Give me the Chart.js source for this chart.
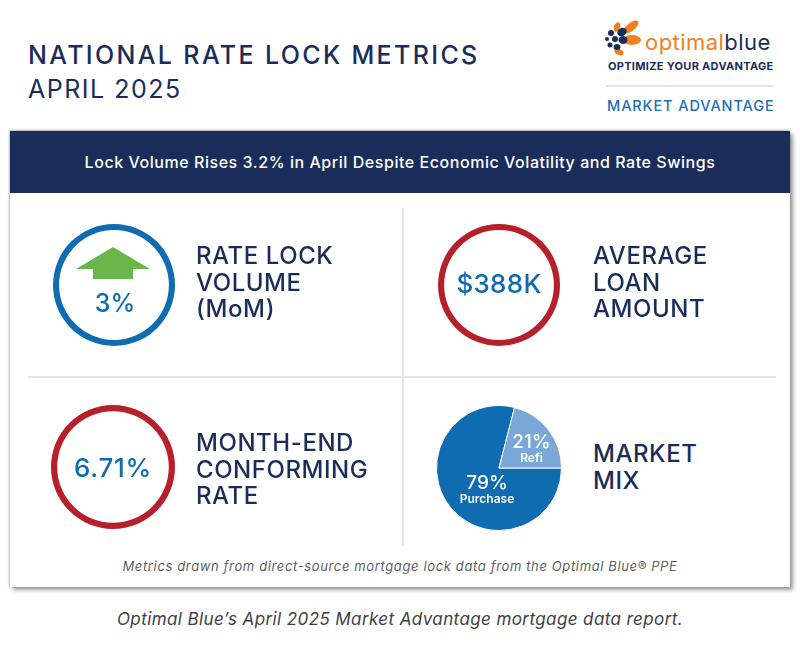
<!DOCTYPE html>
<html>
<head>
<meta charset="utf-8">
<script src="https://cdn.jsdelivr.net/npm/chart.js@4/dist/chart.umd.min.js"></script>
<style>
html, body { margin: 0; padding: 0; background: #fff; }
body { width: 800px; height: 650px; position: relative; overflow: hidden; font-family: Inter, "Open Sans", sans-serif; color: #1a2d5a; }
.t { position: absolute; white-space: nowrap; line-height: 1; }
.lbl { position: absolute; font-size: 24px; line-height: 26.5px; font-weight: 500; letter-spacing: .55px; color: #1a2d5a; }
.val { position: absolute; color: #0f6cb0; font-weight: 500; text-align: center; line-height: 1; }
canvas { position: absolute; }
#panel { position: absolute; left: 10px; top: 131px; width: 780px; height: 456px; background: #fff; box-shadow: 3px 3px 4px rgba(60,60,60,.5), -1px 0 2px rgba(60,60,60,.25), 0 -1px 2px rgba(60,60,60,.3); }
#band { position: absolute; left: 10px; top: 131px; width: 780px; height: 62px; background: #1a2d5a; color: #fff; font-size: 16px; font-weight: 500; letter-spacing: .55px; text-align: center; line-height: 62px; }
.rule { position: absolute; background: #e4e5e6; }
</style>
</head>
<body>
<div class="t" style="left:28px;top:43px;font-size:25px;font-weight:500;letter-spacing:2.35px">NATIONAL RATE LOCK METRICS</div>
<div class="t" style="left:28px;top:77px;font-size:25px;font-weight:400;letter-spacing:1.5px">APRIL 2025</div>

<svg style="position:absolute;left:600px;top:18px" width="50" height="42">
  <g fill="#f08122">
    <ellipse cx="31" cy="9" rx="9" ry="4" transform="rotate(-38 31 9)"/>
    <ellipse cx="32" cy="22" rx="9" ry="5"/>
    <ellipse cx="19" cy="34" rx="5" ry="3" transform="rotate(25 19 34)"/>
    <ellipse cx="17" cy="9" rx="3" ry="5" transform="rotate(20 17 9)"/>
  </g>
  <g fill="#1a2d5a">
    <ellipse cx="22" cy="14" rx="5" ry="4" transform="rotate(-35 22 14)"/>
    <ellipse cx="23" cy="22" rx="4.5" ry="4"/>
    <ellipse cx="17" cy="29" rx="3.5" ry="3"/>
    <circle cx="11" cy="15" r="3"/>
    <circle cx="15" cy="21" r="3"/>
    <circle cx="10" cy="27" r="2.5"/>
    <circle cx="7" cy="21" r="2"/>
  </g>
</svg>
<div class="t" style="left:645px;top:31px;font-size:22px;font-weight:400;letter-spacing:.45px"><span style="color:#f08122">optimal</span><span style="color:#1a2d5a">blue</span></div>
<div class="t" style="left:608px;top:61px;font-size:11px;font-weight:700;letter-spacing:.3px">OPTIMIZE YOUR ADVANTAGE</div>
<div class="rule" style="left:606px;top:85px;width:168px;height:2px"></div>
<div class="t" style="left:607px;top:99px;font-size:14.5px;font-weight:500;letter-spacing:.9px;color:#1f6fb2">MARKET ADVANTAGE</div>

<div id="panel"></div>
<div id="band">Lock Volume Rises 3.2% in April Despite Economic Volatility and Rate Swings</div>
<div class="rule" style="left:402px;top:208px;width:1.5px;height:337px"></div>
<div class="rule" style="left:28px;top:376px;width:748px;height:1.5px"></div>

<canvas id="ringVolume" style="left:53px;top:224px"></canvas>
<canvas id="ringLoan" style="left:438px;top:224px"></canvas>
<canvas id="ringRate" style="left:51px;top:405px"></canvas>
<canvas id="pieMix" style="left:436px;top:405px"></canvas>

<svg style="position:absolute;left:76px;top:247px" width="76" height="33">
  <polygon points="37,0 74,22 57,22 57,32 17,32 17,22 0,22" fill="#6bb64a"/>
</svg>
<div class="val" id="valVolume" style="left:55px;top:291px;width:120px;font-size:25px"></div>
<div class="val" id="valLoan" style="left:439px;top:271px;width:120px;font-size:26px;letter-spacing:.3px"></div>
<div class="val" id="valRate" style="left:53px;top:455px;width:120px;font-size:26px;letter-spacing:.7px"></div>

<div class="lbl" style="left:196px;top:243px">RATE LOCK<br>VOLUME<br>(MoM)</div>
<div class="lbl" style="left:593px;top:243px">AVERAGE<br>LOAN<br>AMOUNT</div>
<div class="lbl" style="left:196px;top:430px">MONTH-END<br>CONFORMING<br>RATE</div>
<div class="lbl" style="left:593px;top:441px">MARKET<br>MIX</div>

<div class="t" style="left:10px;width:780px;top:560px;text-align:center;font-size:13px;font-style:italic;color:#5c6165;letter-spacing:.63px">Metrics drawn from direct-source mortgage lock data from the Optimal Blue® PPE</div>
<div class="t" style="left:0;width:800px;top:611px;text-align:center;font-size:17px;font-style:italic;color:#3d4044;letter-spacing:.4px">Optimal Blue’s April 2025 Market Advantage mortgage data report.</div>

<script>
// printed on the card
const volumeChange = "3%";
const avgLoan = "$388K";
const conformingRate = "6.71%";
const mixLabels = ["Purchase", "Refi"];
const mixValues = [79, 21];
const mixColors = ["#0f6cb0", "#79a7d8"];
const ringColorUp = "#0f6cb0";
const ringColorFlat = "#b5202b";

Chart.defaults.animation = false;
Chart.defaults.responsive = false;

document.getElementById("valVolume").textContent = volumeChange;
document.getElementById("valLoan").textContent = avgLoan;
document.getElementById("valRate").textContent = conformingRate;

function setSize(el, size) {
    el.width = size;
    el.height = size;
    el.style.width = size + "px";
    el.style.height = size + "px";
}

// ring = doughnut with one full slice
function makeRing(id, size, color) {
    const el = document.getElementById(id);
    setSize(el, size);
    return new Chart(el, {
        type: "doughnut",
        data: { datasets: [{ data: [100], backgroundColor: color, borderWidth: 0 }] },
        options: {
            cutout: "90%",
            layout: { padding: 0 },
            plugins: { legend: { display: false }, tooltip: { enabled: false } },
        },
    });
}

makeRing("ringVolume", 122, ringColorUp);
makeRing("ringLoan", 122, ringColorFlat);
makeRing("ringRate", 124, ringColorFlat);

// percent + name inside each pie slice
const mixText = {
    id: "mixText",
    afterDatasetsDraw(chart) {
        const arcs = chart.getDatasetMeta(0).data;
        const c = chart.ctx;
        c.save();
        c.textAlign = "center";
        c.fillStyle = "#fff";
        arcs.forEach((arc, i) => {
            const x = i === 0 ? arc.x - 12 : arc.x + 32.5;
            const y = i === 0 ? arc.y + 21 : arc.y - 20;
            c.font = "500 19px Inter";
            c.fillText(mixValues[i] + "%", x, y);
            c.font = "600 12px Inter";
            c.fillText(mixLabels[i], x, y + 14);
        });
        c.restore();
    },
};

const pieEl = document.getElementById("pieMix");
setSize(pieEl, 126);
new Chart(pieEl, {
    type: "pie",
    data: {
        labels: mixLabels,
        datasets: [{ data: mixValues, backgroundColor: mixColors, borderColor: "#fff", borderWidth: 1 }],
    },
    options: {
        rotation: 90,
        layout: { padding: 0 },
        plugins: { legend: { display: false }, tooltip: { enabled: false } },
    },
    plugins: [mixText],
});
</script>
</body>
</html>
